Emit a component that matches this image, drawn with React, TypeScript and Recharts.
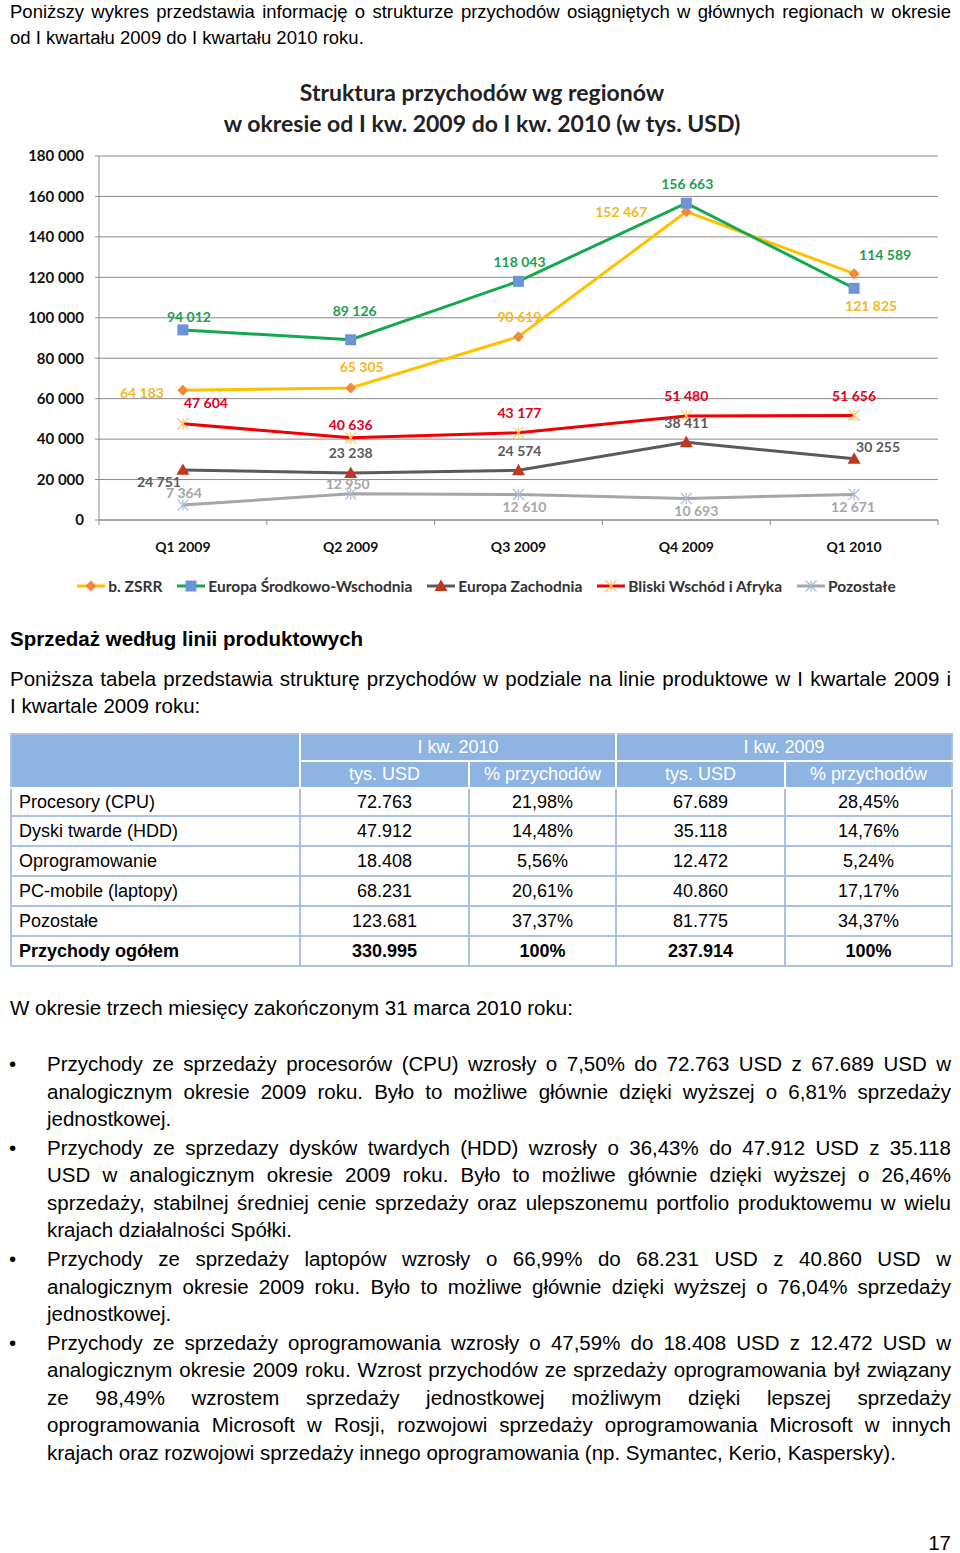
import React from 'react';
import { LineChart, Line, XAxis, YAxis, CartesianGrid } from 'recharts';

// ---------- DATA ----------
const categories = ['Q1 2009', 'Q2 2009', 'Q3 2009', 'Q4 2009', 'Q1 2010'];
const zsrr = [64183, 65305, 90619, 152467, 121825];
const esw = [94012, 89126, 118043, 156663, 114589];
const ez = [24751, 23238, 24574, 38411, 30255];
const bwa = [47604, 40636, 43177, 51480, 51656];
const poz = [7364, 12950, 12610, 10693, 12671];
const yTicks = [0, 20000, 40000, 60000, 80000, 100000, 120000, 140000, 160000, 180000];
const seriesNames = ['b. ZSRR', 'Europa Środkowo-Wschodnia', 'Europa Zachodnia', 'Bliski Wschód i Afryka', 'Pozostałe'];

const tableRowLabels = ['Procesory (CPU)', 'Dyski twarde (HDD)', 'Oprogramowanie', 'PC-mobile (laptopy)', 'Pozostałe', 'Przychody ogółem'];
const usd2010 = ['72.763', '47.912', '18.408', '68.231', '123.681', '330.995'];
const pct2010 = ['21,98%', '14,48%', '5,56%', '20,61%', '37,37%', '100%'];
const usd2009 = ['67.689', '35.118', '12.472', '40.860', '81.775', '237.914'];
const pct2009 = ['28,45%', '14,76%', '5,24%', '17,17%', '34,37%', '100%'];

// ---------- LAYOUT / STYLE ----------
const CHART_W = 960;
const CHART_H = 420;
const MARGIN = { top: 16, right: 22, bottom: 0, left: 0 };
const Y_AXIS_W = 99;
const PLOT_W = CHART_W - MARGIN.right - MARGIN.left - Y_AXIS_W;
const HALF_BAND = PLOT_W / categories.length / 2;
const CHART_FONT = 'Lato, "Open Sans", sans-serif';

// label offsets (dx, dy) relative to each point, as placed in the original
const labelOffsets: Record<string, number[][]> = {
  zsrr: [[-41, 2], [11, -21], [1, -20], [-65, 0], [17, 32]],
  esw: [[6, -13], [4, -29], [1, -20], [1, -20], [31, -34]],
  ez: [[-24, 12], [0, -21], [1, -20], [0, -20], [24, -12]],
  bwa: [[23, -21], [0, -13], [1, -20], [0, -20], [0, -20]],
  poz: [[1, -13], [-3, -10], [6, 12], [10, 12], [-1, 12]],
};

const fmt = (v: number) => String(v).replace(/\B(?=(\d{3})+(?!\d))/g, ' ');

const data = categories.map((c, i) => ({
  cat: c,
  zsrr: zsrr[i],
  esw: esw[i],
  ez: ez[i],
  bwa: bwa[i],
  poz: poz[i],
}));

type MarkerKind = 'diamond' | 'square' | 'triangle' | 'star';

const Marker = ({ kind, cx, cy, color }: { kind: MarkerKind; cx: number; cy: number; color: string }) => {
  if (kind === 'diamond') {
    const r = 5.5;
    return <polygon points={`${cx},${cy - r} ${cx + r},${cy} ${cx},${cy + r} ${cx - r},${cy}`} fill={color} />;
  }
  if (kind === 'square') {
    const r = 5.5;
    return <rect x={cx - r} y={cy - r} width={r * 2} height={r * 2} fill={color} />;
  }
  if (kind === 'triangle') {
    const r = 6.5;
    return <polygon points={`${cx},${cy - r} ${cx + r},${cy + r * 0.75} ${cx - r},${cy + r * 0.75}`} fill={color} />;
  }
  const r = 5.5;
  return (
    <g stroke={color} strokeWidth={1.2}>
      <line x1={cx - r} y1={cy - r} x2={cx + r} y2={cy + r} />
      <line x1={cx - r} y1={cy + r} x2={cx + r} y2={cy - r} />
      <line x1={cx} y1={cy - r} x2={cx} y2={cy + r} />
    </g>
  );
};

interface SeriesDef {
  key: string;
  line: string;
  marker: string;
  kind: MarkerKind;
  label: string;
  width: number;
}

const series: SeriesDef[] = [
  { key: 'zsrr', line: '#FFC000', marker: '#F4883A', kind: 'diamond', label: '#F3B81E', width: 3 },
  { key: 'esw', line: '#16A84E', marker: '#6E92D8', kind: 'square', label: '#1E9E50', width: 3 },
  { key: 'ez', line: '#5A5A5A', marker: '#BE3A1E', kind: 'triangle', label: '#595959', width: 3 },
  { key: 'bwa', line: '#F00000', marker: '#F8C468', kind: 'star', label: '#E2001A', width: 3 },
  { key: 'poz', line: '#A6A6A6', marker: '#A9BADC', kind: 'star', label: '#A6A6A6', width: 3 },
];

const XTick = (props: any) => {
  const { x, y, payload, index } = props;
  const top = y - 26;
  return (
    <g>
      {index === 0 && <line x1={x - HALF_BAND} y1={top} x2={x - HALF_BAND} y2={top + 5} stroke="#8a8a8a" />}
      <line x1={x + HALF_BAND} y1={top} x2={x + HALF_BAND} y2={top + 5} stroke="#8a8a8a" />
      <text x={x} y={y} textAnchor="middle" dominantBaseline="central" fontFamily={CHART_FONT} fontWeight={700} fontSize={14} fill="#111">
        {payload.value}
      </text>
    </g>
  );
};

const Chart = () => (
  <LineChart width={CHART_W} height={CHART_H} data={data} margin={MARGIN}>
    <CartesianGrid horizontal vertical={false} stroke="#8a8a8a" strokeWidth={1} />
    <XAxis
      dataKey="cat"
      height={40}
      axisLine={{ stroke: '#8a8a8a' }}
      tickLine={false}
      tick={<XTick />}
      tickMargin={20}
      interval={0}
      padding={{ left: HALF_BAND, right: HALF_BAND }}
    />
    <YAxis
      width={Y_AXIS_W}
      domain={[0, 180000]}
      ticks={yTicks}
      interval={0}
      tickFormatter={fmt}
      axisLine={{ stroke: '#8a8a8a' }}
      tickLine={{ stroke: '#8a8a8a' }}
      tickSize={4}
      tickMargin={11}
      tick={{ fontFamily: CHART_FONT, fontWeight: 700, fontSize: 15, fill: '#111' }}
    />
    {series.map((s) => (
      <Line
        key={s.key}
        dataKey={s.key}
        stroke={s.line}
        strokeWidth={s.width}
        isAnimationActive={false}
        dot={(p: any) => <Marker key={`${s.key}-${p.index}`} kind={s.kind} cx={p.cx} cy={p.cy} color={s.marker} />}
        activeDot={false}
        label={(p: any) => {
          const off = labelOffsets[s.key][p.index] || [0, -15];
          return (
            <text
              key={`${s.key}-l-${p.index}`}
              x={p.x + off[0]}
              y={p.y + off[1]}
              textAnchor="middle"
              dominantBaseline="central"
              fontFamily={CHART_FONT}
              fontWeight={700}
              fontSize={14}
              fill={s.label}
            >
              {fmt(p.value)}
            </text>
          );
        }}
      />
    ))}
  </LineChart>
);

const LegendItem = ({ s, name }: { s: SeriesDef; name: string }) => (
  <div style={{ display: 'flex', alignItems: 'center' }}>
    <svg width={30} height={16}>
      <line x1={1} y1={8} x2={29} y2={8} stroke={s.line} strokeWidth={3} />
      <Marker kind={s.kind} cx={15} cy={8} color={s.marker} />
    </svg>
    <span style={{ marginLeft: 2, fontFamily: CHART_FONT, fontWeight: 700, fontSize: 15.5, color: '#333', whiteSpace: 'nowrap' }}>{name}</span>
  </div>
);

// ---------- PAGE ----------
const BODY_FONT = '"Liberation Sans", Arial, Helvetica, sans-serif';

const TL = ({ cy, left = 10, width = 941, size, lh, justify = false, bold = false, align = 'left', children }: any) => (
  <div
    style={{
      position: 'absolute',
      top: cy - lh / 2,
      left,
      width,
      fontSize: size,
      lineHeight: `${lh}px`,
      height: lh,
      whiteSpace: 'nowrap',
      textAlign: justify ? 'justify' : align,
      textAlignLast: justify ? 'justify' : align,
      fontWeight: bold ? 700 : 400,
    } as React.CSSProperties}
  >
    {children}
  </div>
);

const bullets: { lines: string[]; ys: number[] }[] = [
  {
    lines: [
      'Przychody ze sprzedaży procesorów (CPU) wzrosły o 7,50% do 72.763 USD z 67.689 USD w',
      'analogicznym okresie 2009 roku. Było to możliwe głównie dzięki wyższej o 6,81% sprzedaży',
      'jednostkowej.',
    ],
    ys: [1063, 1091, 1118],
  },
  {
    lines: [
      'Przychody ze sprzedazy dysków twardych (HDD) wzrosły o 36,43% do 47.912 USD z 35.118',
      'USD w analogicznym okresie 2009 roku. Było to możliwe głównie dzięki wyższej o 26,46%',
      'sprzedaży, stabilnej średniej cenie sprzedaży oraz ulepszonemu portfolio produktowemu w wielu',
      'krajach działalności Spółki.',
    ],
    ys: [1147, 1174, 1202, 1229],
  },
  {
    lines: [
      'Przychody ze sprzedaży laptopów wzrosły o 66,99% do 68.231 USD z 40.860 USD w',
      'analogicznym okresie 2009 roku. Było to możliwe głównie dzięki wyższej o 76,04% sprzedaży',
      'jednostkowej.',
    ],
    ys: [1258, 1286, 1313],
  },
  {
    lines: [
      'Przychody ze sprzedaży oprogramowania wzrosły o 47,59% do 18.408 USD z 12.472 USD w',
      'analogicznym okresie 2009 roku. Wzrost przychodów ze sprzedaży oprogramowania był związany',
      'ze 98,49% wzrostem sprzedaży jednostkowej możliwym dzięki lepszej sprzedaży',
      'oprogramowania Microsoft w Rosji, rozwojowi sprzedaży oprogramowania Microsoft w innych',
      'krajach oraz rozwojowi sprzedaży innego oprogramowania (np. Symantec, Kerio, Kaspersky).',
    ],
    ys: [1342, 1369, 1397, 1424, 1452],
  },
];

const HEADER_BG = '#8DB4E2';
const BODY_BORDER = '2px solid #A9C1E5';
const HEAD_BORDER = '2px solid #FFFFFF';

const Table = () => {
  const colW = [289, 169, 147, 169, 167];
  const th: React.CSSProperties = {
    background: HEADER_BG,
    color: '#fff',
    fontWeight: 400,
    fontSize: 18,
    border: HEAD_BORDER,
    padding: 0,
    textAlign: 'center',
    height: 25,
  };
  return (
    <table
      style={{
        position: 'absolute',
        top: 733,
        left: 10,
        width: 941,
        borderCollapse: 'collapse',
        tableLayout: 'fixed',
        fontFamily: BODY_FONT,
        fontSize: 18,
        border: BODY_BORDER,
      }}
    >
      <colgroup>
        {colW.map((w, i) => (
          <col key={i} style={{ width: w }} />
        ))}
      </colgroup>
      <tbody>
        <tr>
          <td style={{ ...th, borderLeft: BODY_BORDER, borderTop: BODY_BORDER }} rowSpan={2}></td>
          <td style={{ ...th, borderTop: BODY_BORDER }} colSpan={2}>I kw. 2010</td>
          <td style={{ ...th, borderTop: BODY_BORDER, borderRight: BODY_BORDER }} colSpan={2}>I kw. 2009</td>
        </tr>
        <tr>
          <td style={th}>tys. USD</td>
          <td style={th}>% przychodów</td>
          <td style={th}>tys. USD</td>
          <td style={{ ...th, borderRight: BODY_BORDER }}>% przychodów</td>
        </tr>
        {tableRowLabels.map((lab, i) => {
          const bold = i === tableRowLabels.length - 1;
          const td: React.CSSProperties = {
            border: BODY_BORDER,
            padding: 0,
            textAlign: 'center',
            height: i === 0 ? 26 : 28,
            fontWeight: bold ? 700 : 400,
            color: '#000',
          };
          return (
            <tr key={lab}>
              <td style={{ ...td, textAlign: 'left', paddingLeft: 7 }}>{lab}</td>
              <td style={td}>{usd2010[i]}</td>
              <td style={td}>{pct2010[i]}</td>
              <td style={td}>{usd2009[i]}</td>
              <td style={td}>{pct2009[i]}</td>
            </tr>
          );
        })}
      </tbody>
    </table>
  );
};

export default function App() {
  return (
    <div
      style={{
        position: 'absolute',
        left: 0,
        top: 0,
        width: 960,
        height: 1553,
        background: '#fff',
        color: '#000',
        fontFamily: BODY_FONT,
        overflow: 'hidden',
      }}
    >
      <TL cy={12} size={18.5} lh={26} justify>
        Poniższy wykres przedstawia informację o strukturze przychodów osiągniętych w głównych regionach w okresie
      </TL>
      <TL cy={38} size={18.5} lh={26}>
        od I kwartału 2009 do I kwartału 2010 roku.
      </TL>

      <div
        style={{
          position: 'absolute',
          top: 77,
          left: 0,
          width: 964,
          textAlign: 'center',
          fontFamily: CHART_FONT,
          fontWeight: 700,
          fontSize: 23,
          lineHeight: '31px',
          color: '#222',
        }}
      >
        <div>Struktura przychodów wg regionów</div>
        <div>w okresie od I kw. 2009 do I kw. 2010 (w tys. USD)</div>
      </div>

      <div style={{ position: 'absolute', top: 140, left: 0 }}>
        <Chart />
      </div>

      <div
        style={{
          position: 'absolute',
          top: 577,
          left: 0,
          width: 972,
          display: 'flex',
          justifyContent: 'center',
          gap: 14,
        }}
      >
        {series.map((s, i) => (
          <LegendItem key={s.key} s={s} name={seriesNames[i]} />
        ))}
      </div>

      <TL cy={638} size={20.5} lh={27} bold>
        Sprzedaż według linii produktowych
      </TL>
      <TL cy={678} size={20.5} lh={27} justify>
        Poniższa tabela przedstawia strukturę przychodów w podziale na linie produktowe w I kwartale 2009 i
      </TL>
      <TL cy={705} size={20.5} lh={27}>
        I kwartale 2009 roku:
      </TL>

      <Table />

      <TL cy={1007} size={20.5} lh={27}>
        W okresie trzech miesięcy zakończonym 31 marca 2010 roku:
      </TL>

      {bullets.map((b, bi) => (
        <React.Fragment key={bi}>
          <TL cy={b.ys[0]} left={9} width={30} size={20.5} lh={27}>
            •
          </TL>
          {b.lines.map((ln, li) => (
            <TL key={li} cy={b.ys[li]} left={47} width={904} size={20.5} lh={27} justify={li < b.lines.length - 1}>
              {ln}
            </TL>
          ))}
        </React.Fragment>
      ))}

      <TL cy={1543} left={880} width={71} size={20.5} lh={24} align="right">
        17
      </TL>
    </div>
  );
}
